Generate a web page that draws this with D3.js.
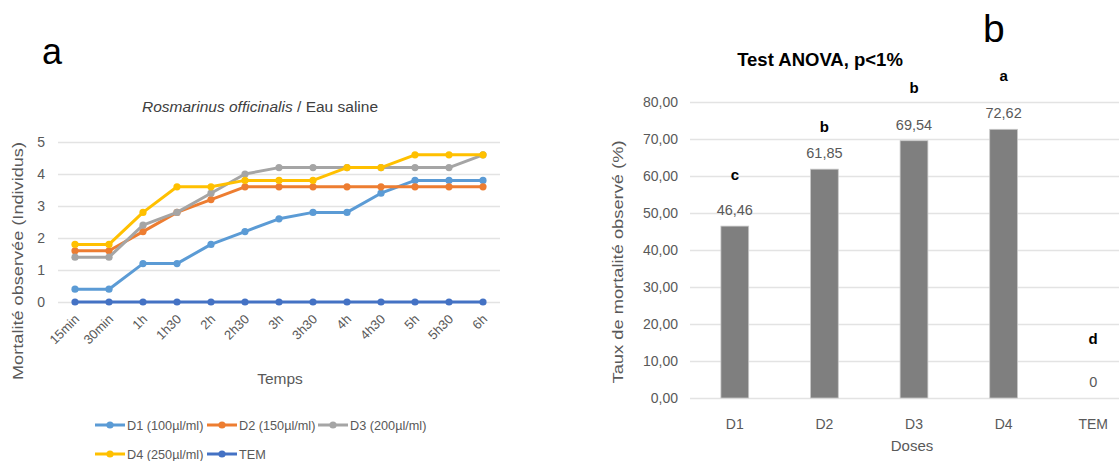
<!DOCTYPE html>
<html>
<head>
<meta charset="utf-8">
<script src="https://cdn.jsdelivr.net/npm/d3@7"></script>
<style>
  body { margin: 0; background: #fff; }
  svg { font-family: "Liberation Sans", Arial, sans-serif; }
</style>
</head>
<body>
<svg id="fig" width="1119" height="461"></svg>
<script>
// line chart data (panel a)
var times = ["15min", "30min", "1h", "1h30", "2h", "2h30", "3h", "3h30", "4h", "4h30", "5h", "5h30", "6h"];
var d1 = [0.4, 0.4, 1.2, 1.2, 1.8, 2.2, 2.6, 2.8, 2.8, 3.4, 3.8, 3.8, 3.8];
var d2 = [1.6, 1.6, 2.2, 2.8, 3.2, 3.6, 3.6, 3.6, 3.6, 3.6, 3.6, 3.6, 3.6];
var d3v = [1.4, 1.4, 2.4, 2.8, 3.4, 4.0, 4.2, 4.2, 4.2, 4.2, 4.2, 4.2, 4.6];
var d4 = [1.8, 1.8, 2.8, 3.6, 3.6, 3.8, 3.8, 3.8, 4.2, 4.2, 4.6, 4.6, 4.6];
var tem = [0, 0, 0, 0, 0, 0, 0, 0, 0, 0, 0, 0, 0];
var seriesNames = ["D1 (100µl/ml)", "D2 (150µl/ml)", "D3 (200µl/ml)", "D4 (250µl/ml)", "TEM"];
var lineTicks = [0, 1, 2, 3, 4, 5];

// bar chart data (panel b)
var doses = ["D1", "D2", "D3", "D4", "TEM"];
var mortality = [46.46, 61.85, 69.54, 72.62, 0];
var groupLetters = ["c", "b", "b", "a", "d"];
var letterLevels = [58.9, 72.0, 82.3, 85.6, 14.6];
var barTicks = [0, 10, 20, 30, 40, 50, 60, 70, 80];

var colors = ["#5B9BD5", "#ED7D31", "#A5A5A5", "#FFC000", "#4472C4"];
var grey = "#595959";
var svg = d3.select("#fig");

// ---------- panel a ----------
var lineData = [d1, d2, d3v, d4, tem];
var x = d3.scaleBand().domain(times).range([58, 500]);
var y = d3.scaleLinear().domain([0, 5]).range([302, 142]);

svg.append("text").attr("x", 42).attr("y", 64).attr("font-size", 36).text("a");

var t1 = svg.append("text").attr("x", 260).attr("y", 112).attr("text-anchor", "middle")
  .attr("font-size", 15.5).attr("fill", "#404040");
t1.append("tspan").attr("font-style", "italic").text("Rosmarinus officinalis");
t1.append("tspan").text(" / Eau saline");

var gy = svg.append("g").attr("transform", "translate(58,0)")
  .call(d3.axisLeft(y).tickValues(lineTicks).tickSize(-442).tickFormat(d3.format("d")));
gy.select(".domain").remove();
gy.selectAll(".tick line").attr("stroke", "#E3E3E3").attr("stroke-width", 1.3);
gy.selectAll(".tick text").attr("x", -13).attr("font-size", 14).attr("fill", grey)
  .attr("font-family", "Liberation Sans, Arial, sans-serif");

var gx = svg.append("g").attr("transform", "translate(0,302)")
  .call(d3.axisBottom(x).tickSize(0));
gx.select(".domain").remove();
gx.selectAll(".tick text")
  .attr("font-size", 13).attr("fill", grey).attr("font-family", "Liberation Sans, Arial, sans-serif")
  .attr("text-anchor", "end").attr("dy", 0).attr("y", 0)
  .attr("transform", "translate(5,18) rotate(-45)");

svg.append("text").attr("x", 23).attr("y", 261).attr("text-anchor", "middle")
  .attr("transform", "rotate(-90,23,261)").attr("font-size", 14.5).attr("fill", grey)
  .attr("textLength", 238).attr("lengthAdjust", "spacingAndGlyphs")
  .text("Mortalité observée (Individus)");
svg.append("text").attr("x", 280).attr("y", 384).attr("text-anchor", "middle")
  .attr("font-size", 15.5).attr("fill", grey).text("Temps");

var line = d3.line()
  .x(function(d, i) { return x(times[i]) + x.bandwidth() / 2; })
  .y(function(d) { return y(d); });

lineData.forEach(function(vals, k) {
  var g = svg.append("g");
  g.append("path").datum(vals)
    .attr("fill", "none").attr("stroke", colors[k]).attr("stroke-width", 3)
    .attr("stroke-linejoin", "round").attr("d", line);
  g.selectAll("circle").data(vals).enter().append("circle")
    .attr("cx", function(d, i) { return x(times[i]) + x.bandwidth() / 2; })
    .attr("cy", function(d) { return y(d); })
    .attr("r", 3.6).attr("fill", colors[k]);
});

// legend
var legendPos = [[95, 425], [207, 425], [318, 425], [95, 454], [207, 454]];
seriesNames.forEach(function(name, k) {
  var lg = svg.append("g").attr("transform", "translate(" + legendPos[k][0] + "," + legendPos[k][1] + ")");
  lg.append("line").attr("x1", 0).attr("x2", 30).attr("stroke", colors[k]).attr("stroke-width", 3);
  lg.append("circle").attr("cx", 15).attr("r", 3.6).attr("fill", colors[k]);
  lg.append("text").attr("x", 32).attr("y", 5).attr("font-size", 12.7).attr("fill", grey).text(name);
});

// ---------- panel b ----------
var xb = d3.scaleBand().domain(doses).range([690, 1138]).paddingInner(0.69).paddingOuter(0.345);
var yb = d3.scaleLinear().domain([0, 80]).range([398, 102]);
var fmt = function(v) { return v === 0 ? "0" : d3.format(".2f")(v).replace(".", ","); };
var fmt2 = function(v) { return d3.format(".2f")(v).replace(".", ","); };

svg.append("text").attr("x", 983).attr("y", 42).attr("font-size", 39).text("b");
svg.append("text").attr("x", 820).attr("y", 66).attr("text-anchor", "middle")
  .attr("font-size", 18.5).attr("font-weight", "bold").attr("fill", "#000").text("Test ANOVA, p<1%");

var gyb = svg.append("g").attr("transform", "translate(690,0)")
  .call(d3.axisLeft(yb).tickValues(barTicks).tickSize(-440).tickFormat(fmt2));
gyb.select(".domain").remove();
gyb.selectAll(".tick line").attr("stroke", "#E3E3E3").attr("stroke-width", 1.3);
gyb.selectAll(".tick text").attr("x", -12).attr("font-size", 14).attr("fill", grey)
  .attr("font-family", "Liberation Sans, Arial, sans-serif");

var gxb = svg.append("g").attr("transform", "translate(0,398)")
  .call(d3.axisBottom(xb).tickSize(0));
gxb.select(".domain").remove();
gxb.selectAll(".tick text").attr("y", 21).attr("font-size", 14).attr("fill", grey)
  .attr("font-family", "Liberation Sans, Arial, sans-serif");

svg.append("text").attr("x", 623).attr("y", 262).attr("text-anchor", "middle")
  .attr("transform", "rotate(-90,623,262)").attr("font-size", 14.5).attr("fill", grey)
  .attr("textLength", 243).attr("lengthAdjust", "spacingAndGlyphs")
  .text("Taux de mortalité observé (%)");
svg.append("text").attr("x", 912).attr("y", 451).attr("text-anchor", "middle")
  .attr("font-size", 15).attr("fill", grey).text("Doses");

svg.selectAll(".bar").data(mortality).enter().append("rect").attr("class", "bar")
  .attr("x", function(d, i) { return xb(doses[i]); })
  .attr("y", function(d) { return yb(d); })
  .attr("width", xb.bandwidth())
  .attr("height", function(d) { return yb(0) - yb(d); })
  .attr("fill", "#7F7F7F").attr("stroke", "#C9C9C9").attr("stroke-width", 0.8);

svg.selectAll(".val").data(mortality).enter().append("text").attr("class", "val")
  .attr("x", function(d, i) { return xb(doses[i]) + xb.bandwidth() / 2; })
  .attr("y", function(d) { return yb(d) - 11; })
  .attr("text-anchor", "middle").attr("font-size", 14.5).attr("fill", grey)
  .text(fmt);

svg.selectAll(".grp").data(groupLetters).enter().append("text").attr("class", "grp")
  .attr("x", function(d, i) { return xb(doses[i]) + xb.bandwidth() / 2; })
  .attr("y", function(d, i) { return yb(letterLevels[i]); })
  .attr("text-anchor", "middle").attr("font-size", 15).attr("font-weight", "bold").attr("fill", "#000")
  .text(function(d) { return d; });
</script>
</body>
</html>
